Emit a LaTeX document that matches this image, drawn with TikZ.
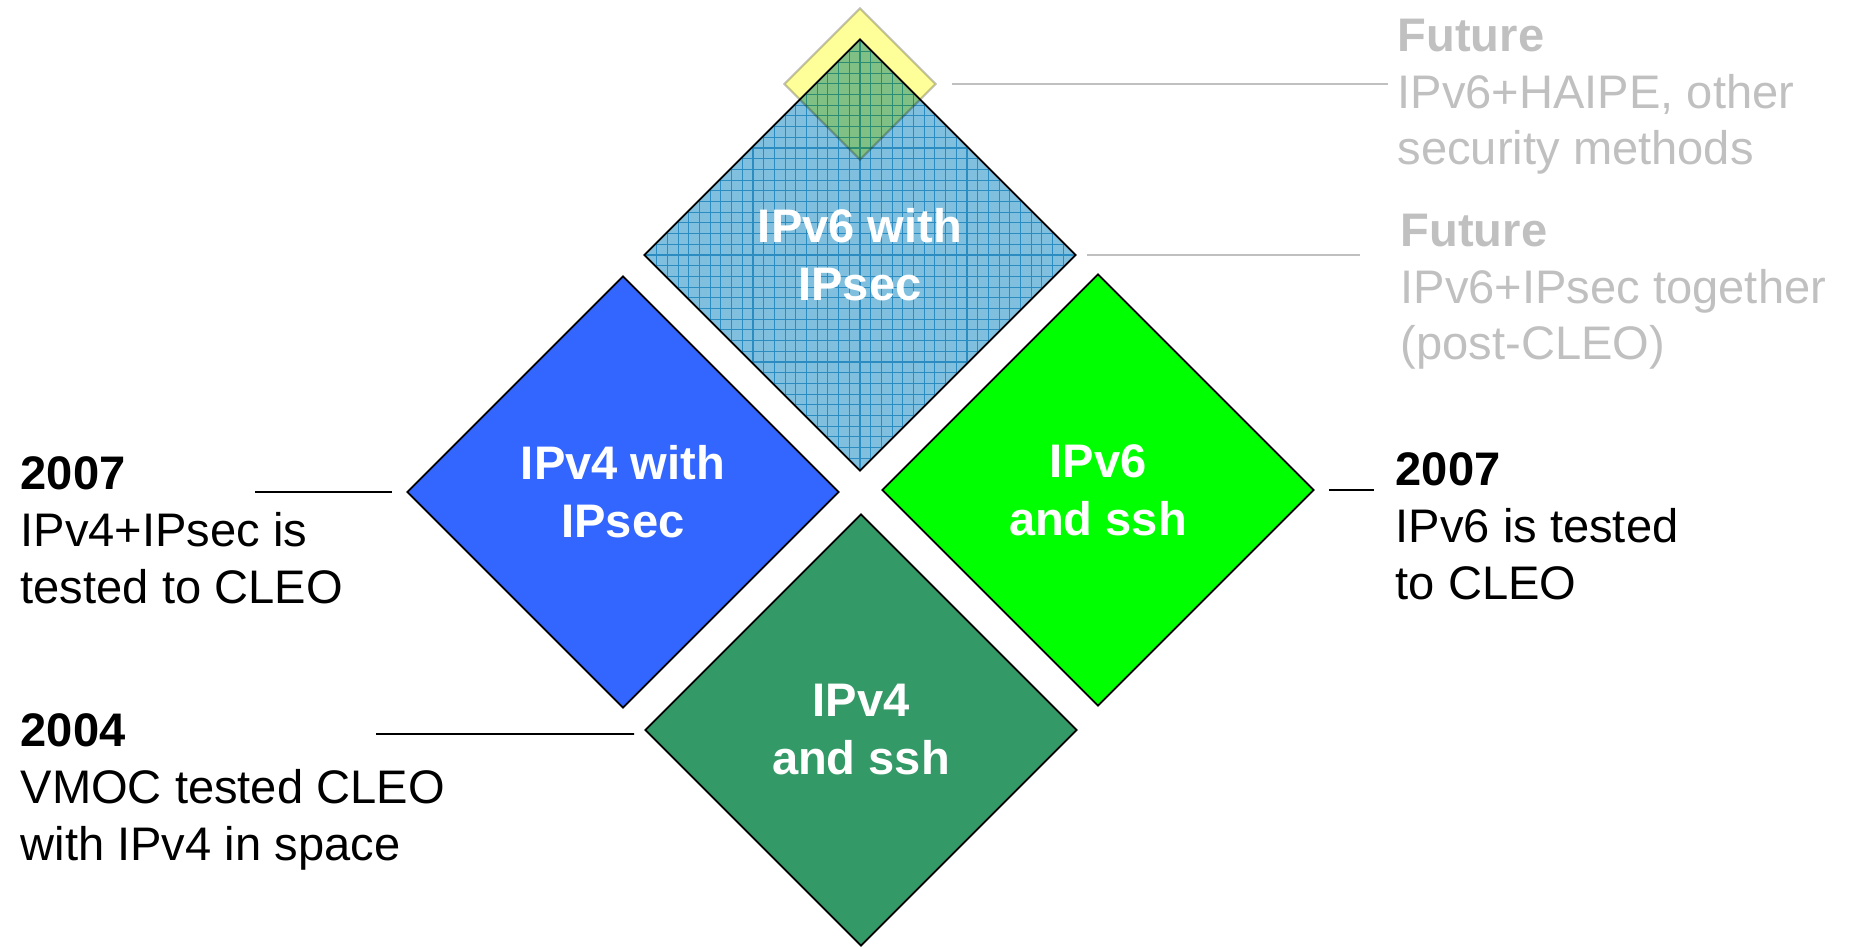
\documentclass[tikz,border=0pt]{standalone}
\usepackage{fontspec}
\setmainfont{Liberation Sans}
\usetikzlibrary{shapes.geometric}
\definecolor{cSec}{HTML}{80C0DE}
\definecolor{cGrid}{HTML}{2A8CC0}
\definecolor{cFour}{HTML}{3366FF}
\definecolor{cSix}{HTML}{00FF00}
\definecolor{cBase}{HTML}{339966}
\definecolor{cHaipe}{HTML}{FFFF99}
\definecolor{cMuted}{HTML}{C0C0C0}
\tikzset{
  gem/.style  ={diamond, draw=black, line width=0.5pt, aspect=1,
                minimum width=4.32cm, minimum height=4.32cm, inner sep=0pt,
                align=center, text=white, font=\fontsize{13.4}{16.5}\selectfont\bfseries},
  grid/.style ={path picture={\draw[cGrid, line width=0.3pt]
                (path picture bounding box.south west) grid[step=0.107cm]
                (path picture bounding box.north east);}},
  note/.style ={anchor=north west, align=left, inner sep=0pt,
                font=\fontsize{13.4}{16.2}\selectfont},
  fnote/.style={note, text=cMuted},
  tie/.style  ={draw=black, line width=0.5pt},
  gtie/.style ={draw=cMuted, line width=0.5pt},
}
\begin{document}
\begin{tikzpicture}
  \useasboundingbox (0,0) rectangle (18.5,9.46);
  % the four diamonds
  \node[gem, fill=cSec, grid] (v6sec) at (8.60,6.91) {IPv6 with\\IPsec};
  \node[gem, fill=cFour] (v4sec) at (6.23,4.54) {IPv4 with\\IPsec};
  \node[gem, fill=cSix]  (v6ssh) at (10.98,4.56) {IPv6\\and ssh};
  \node[gem, fill=cBase] (v4ssh) at (8.61,2.16) {IPv4\\and ssh};
  \node[diamond, aspect=1, minimum width=1.52cm, minimum height=1.52cm, inner sep=0pt,
        fill=cHaipe, draw=cMuted, line width=0.6pt, blend mode=multiply] (haipe) at (8.60,8.62) {};
  % notes
  \node[fnote] (fut1) at (13.97,9.28) {\textbf{Future}\\IPv6+HAIPE, other\\security methods};
  \node[fnote] (fut2) at (14.00,7.33) {\textbf{Future}\\IPv6+IPsec together\\(post-CLEO)};
  \node[note] (l2007) at (0.20,4.90) {\textbf{2007}\\IPv4+IPsec is\\tested to CLEO};
  \node[note] (r2007) at (13.95,4.94) {\textbf{2007}\\IPv6 is tested\\to CLEO};
  \node[note] (y2004) at (0.20,2.33) {\textbf{2004}\\VMOC tested CLEO\\with IPv4 in space};
  \coordinate (lend) at (2.55,4.54);
  \coordinate (bend) at (3.76,2.12);
  % leader lines
  \draw[gtie] ([xshift=0.15cm]haipe.east) -- ([xshift=-0.09cm]fut1.west |- haipe.east);
  \draw[gtie] ([xshift=0.10cm]v6sec.east) -- ([xshift=-0.40cm]fut2.west |- v6sec.east);
  \draw[tie] ([xshift=-0.14cm]v4sec.west) -- (lend |- v4sec.west);
  \draw[tie] ([xshift=-0.10cm,yshift=-0.04cm]v4ssh.west) -- (bend);
  \draw[tie] ([xshift=0.14cm]v6ssh.east) -- ([xshift=-0.21cm]r2007.west |- v6ssh.east);
\end{tikzpicture}
\end{document}
